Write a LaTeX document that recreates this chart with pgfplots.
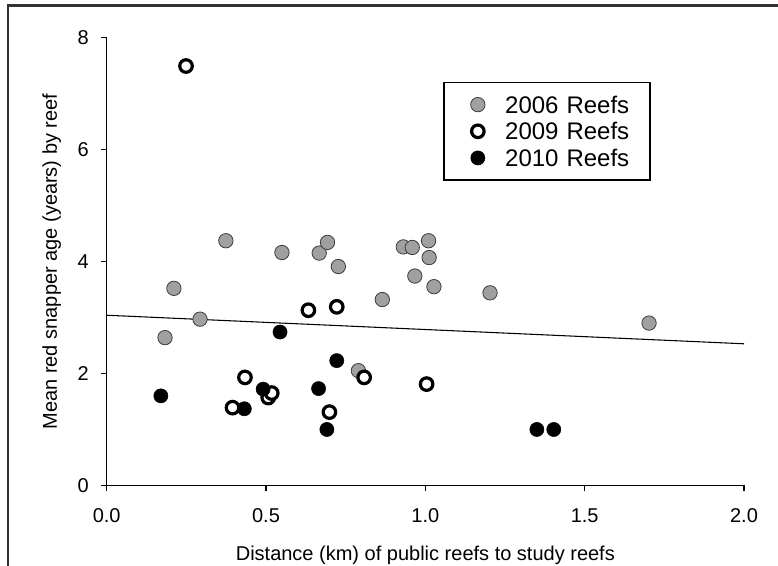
\documentclass[border=0pt]{standalone}
\usepackage{fontspec}
\setmainfont{Liberation Sans}
\usepackage{pgfplots}
\pgfplotsset{compat=1.18}

\definecolor{reefgray}{RGB}{160,160,160}
\definecolor{edgegray}{RGB}{60,60,60}
\definecolor{framegray}{RGB}{50,50,50}

\begin{document}
\begin{tikzpicture}
% page = 778 x 565 px at 0.75pt per px
\useasboundingbox (0pt,0pt) rectangle (583.5pt,-423.75pt);
\draw[line width=2pt, framegray] (6pt,-430pt) -- (6pt,-4.3pt) -- (590pt,-4.3pt);
\begin{axis}[
    at={(80.0pt,-364.1pt)}, anchor=south west,
    scale only axis,
    width=478pt, height=336pt,
    xmin=0, xmax=2, ymin=0, ymax=8,
    axis lines*=left,
    axis line style={line width=1.2pt, black},
    tick align=outside,
    major tick length=4.5pt,
    tick style={line width=1.2pt, black},
    xtick={0,0.5,...,2},
    ytick={0,2,4,6,8},
    minor tick num=0,
    /pgf/number format/assume math mode=true,
    tick label style={font=\fontsize{15}{17}\selectfont},
    yticklabel style={anchor=east, inner sep=0pt},
    yticklabel shift=8.8pt,
    xticklabel style={inner sep=0pt, yshift=-12.6pt,
        /pgf/number format/fixed, /pgf/number format/fixed zerofill,
        /pgf/number format/precision=1},
    label style={font=\fontsize{15}{17}\selectfont},
    xlabel={Distance (km) of public reefs to study reefs},
    ylabel={Mean red snapper age (years) by reef},
    xlabel style={at={(axis description cs:0.5,0)}, anchor=base, inner sep=0pt, yshift=-56pt},
    ylabel style={at={(axis description cs:-0.078,0.5)}, anchor=base, inner sep=0pt},
    clip=false,
    legend cell align=left,
    legend style={
        at={(0.528,0.9007)}, anchor=north west,
        draw=black, line width=1pt,
        inner xsep=6.5pt, inner ysep=6.5pt,
        row sep=0pt,
        font=\fontsize{18}{20}\selectfont,
        nodes={inner sep=0pt, text height=16.4pt, text depth=3.6pt,
               text width=102pt, align=left,
               font=\fontsize{18}{20}\selectfont},
    },
    legend image code/.code={%
        \path[draw=none, fill=none] (0pt,0pt) -- (39.5pt,0pt);
        \draw[#1, only marks] plot coordinates {(19pt,0pt)};
    },
]

% 2006 reefs
\addplot[only marks, mark=*, mark size=5.4pt, mark options={fill=reefgray, draw=edgegray, line width=0.6pt}] coordinates {
    (0.183,2.64)(0.211,3.52)(0.293,2.97)(0.374,4.37)(0.550,4.16)(0.667,4.15)
    (0.693,4.34)(0.727,3.91)(0.790,2.05)(0.865,3.32)(0.931,4.26)(0.959,4.25)
    (0.967,3.74)(1.010,4.37)(1.012,4.07)(1.027,3.55)(1.203,3.44)(1.702,2.90)
};
\addlegendentry{2006 Reefs}

% 2009 reefs
\addplot[only marks, mark=*, mark size=4.7pt, mark options={fill=white, draw=black, line width=2.4pt}] coordinates {
    (0.249,7.49)(0.395,1.39)(0.434,1.93)(0.507,1.57)(0.518,1.65)
    (0.633,3.13)(0.699,1.31)(0.722,3.19)(0.808,1.93)(1.004,1.81)
};
\addlegendentry{2009 Reefs}

% 2010 reefs
\addplot[only marks, mark=*, mark size=5.3pt, mark options={fill=black, draw=black, line width=0.4pt}] coordinates {
    (0.170,1.60)(0.432,1.37)(0.491,1.72)(0.544,2.74)(0.665,1.73)
    (0.691,1.00)(0.722,2.23)(1.350,1.00)(1.403,1.00)
};
\addlegendentry{2010 Reefs}

% regression line
\addplot[black, line width=0.8pt, forget plot] coordinates {(0,3.04)(2,2.53)};

\end{axis}
\end{tikzpicture}
\end{document}
